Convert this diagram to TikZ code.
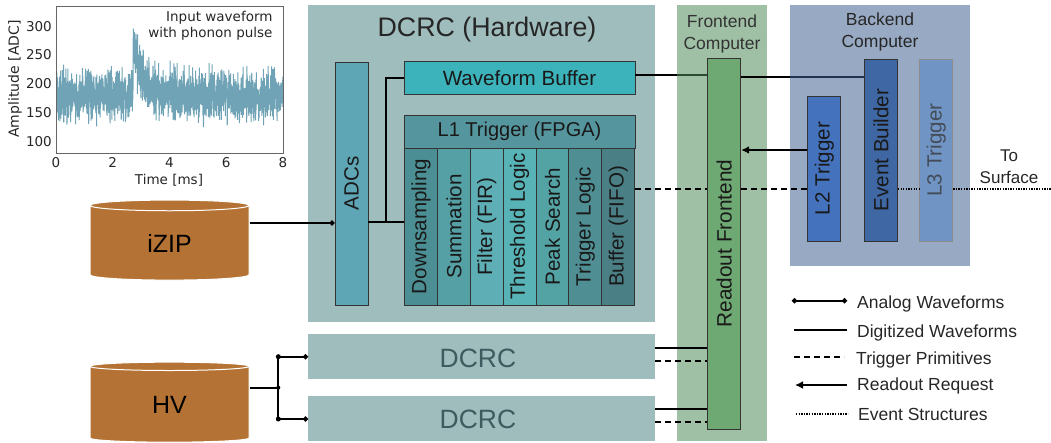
\documentclass[tikz,border=0pt]{standalone}
\usepackage{fontspec}
\setmainfont{Liberation Sans}
\newfontfamily\plotfont{DejaVu Sans}
\usetikzlibrary{shapes.geometric, arrows.meta, positioning}
\definecolor{dcrcpanel}{RGB}{160,189,189}
\definecolor{frontpanel}{RGB}{160,192,165}
\definecolor{backpanel}{RGB}{151,169,195}
\definecolor{detbrown}{RGB}{180,115,52}
\definecolor{wavecol}{RGB}{111,163,181}
\definecolor{dcrctext}{RGB}{60,92,95}
\definecolor{adccol}{RGB}{94,165,181}
\definecolor{buffercol}{RGB}{60,179,186}
\definecolor{lonecol}{RGB}{85,150,158}
\definecolor{readcol}{RGB}{110,168,114}
\definecolor{ltwocol}{RGB}{68,114,189}
\definecolor{buildcol}{RGB}{62,103,163}
\definecolor{lthreecol}{RGB}{112,148,196}
\definecolor{frontline}{RGB}{44,74,50}
\definecolor{backline}{RGB}{31,51,80}
\definecolor{downscol}{RGB}{75,142,147}
\definecolor{summcol}{RGB}{84,160,165}
\definecolor{filtcol}{RGB}{94,174,181}
\definecolor{threshcol}{RGB}{87,179,181}
\definecolor{peakcol}{RGB}{83,163,165}
\definecolor{tlogiccol}{RGB}{79,143,148}
\definecolor{fifocol}{RGB}{74,127,133}
\tikzset{
  panel/.style={rectangle, inner sep=0pt, anchor=north west},
  unit/.style={rectangle, draw=black!80, line width=0.8pt, inner sep=0pt, text=black!90},
  upunit/.style={unit, rotate=90, minimum height=33pt, font=\fontsize{20.6}{22}\selectfont},
  detector/.style={cylinder, shape border rotate=90, aspect=0.24, draw=white, line width=1pt,
    cylinder uses custom fill, cylinder body fill=detbrown, cylinder end fill=detbrown,
    minimum width=159pt, minimum height=80pt, inner sep=0pt, font=\fontsize{25}{27}\selectfont},
  analog/.style={line width=1.8pt, -{Circle[length=5pt]}},
  digital/.style={line width=1.8pt},
  trigprim/.style={line width=1.8pt, dash pattern=on 6pt off 4pt},
  request/.style={line width=1.8pt, -{Latex[length=8pt,width=8pt]}},
  evstruct/.style={line width=1.8pt, dash pattern=on 1.3pt off 1.3pt},
  legendtext/.style={anchor=west, inner sep=0pt, font=\fontsize{17.5}{19}\selectfont, text=black!85},
  ticktext/.style={inner sep=0pt, font=\plotfont\fontsize{13.5}{15}\selectfont, text=black!85}
}
\begin{document}
\begin{tikzpicture}[x=1pt, y=-1pt,
  declare function={wave(\t)=180+25*(rand+rand)+12*rand+55*rand*rand*rand*rand*rand
    +(\t>2.72)*95*exp(-max(\t-2.72,0)/0.28);}]
\useasboundingbox (0,0) rectangle (1051,442);

% Panels
\node[panel, fill=dcrcpanel, minimum width=347pt, minimum height=317pt] (dcrcmain) at (308,5) {};
\node[panel, fill=dcrcpanel, minimum width=347pt, minimum height=45pt] (dcrcone) at (308,334) {};
\node[panel, fill=dcrcpanel, minimum width=347pt, minimum height=45pt] (dcrctwo) at (308,396) {};
\node[panel, fill=frontpanel, minimum width=90pt, minimum height=436pt] (frontend) at (677,5) {};
\node[panel, fill=backpanel, minimum width=180pt, minimum height=261pt] (backend) at (790,5) {};

% Panel titles
\node[inner sep=0pt, font=\fontsize{26.8}{30}\selectfont, text=black!85] (dcrctitle) at (487,30) {DCRC (Hardware)};
\node[inner sep=0pt, font=\fontsize{26.5}{28}\selectfont, text=dcrctext] (dcrconetitle) at (478,358) {DCRC};
\node[inner sep=0pt, font=\fontsize{26.5}{28}\selectfont, text=dcrctext] (dcrctwotitle) at (478,419) {DCRC};
\node[inner sep=0pt, align=center, font=\fontsize{17.5}{22}\selectfont, text=black!80] (fronttitle) at (722,33.5) {Frontend\\Computer};
\node[inner sep=0pt, align=center, font=\fontsize{17.5}{22}\selectfont, text=black!85] (backtitle) at (880,32) {Backend\\Computer};

% Detectors
\node[detector] (izip) at (169.5,243) {\raisebox{-4pt}{iZIP}};
\node[detector] (hv) at (169.5,404.5) {\raisebox{-4pt}{HV}};

% DCRC contents
\node[upunit, fill=adccol, minimum width=243pt] (adcs) at (351.5,183.5) {ADCs};
\node[unit, fill=buffercol, minimum width=231pt, minimum height=32.5pt, font=\fontsize{20.6}{22}\selectfont] (wavebuf) at (519.5,78) {Waveform Buffer};
\node[unit, fill=lonecol, minimum width=231pt, minimum height=33pt, font=\fontsize{20}{21}\selectfont] (lonehead) at (519.5,131.5) {L1 Trigger (FPGA)};
\foreach \nm/\xc/\lab in {
  downs/421/Downsampling,
  summ/454/Summation,
  filt/486.8/Filter (FIR),
  thresh/519.6/Threshold Logic,
  peak/552.5/Peak Search,
  tlogic/585.3/Trigger Logic,
  fifo/618.3/Buffer (FIFO)}
  \node[upunit, fill=\nm col, minimum width=157pt] (\nm) at (\xc,226.5) {\lab};

% Computers
\node[upunit, fill=readcol, minimum width=371pt, font=\fontsize{20.8}{22}\selectfont] (readout) at (724.3,243.5) {Readout Frontend};
\node[upunit, fill=ltwocol, minimum width=145pt] (ltwo) at (824.2,168.5) {L2 Trigger};
\node[upunit, fill=buildcol, minimum width=182pt] (evbuild) at (881,150) {Event Builder};
\node[upunit, fill=lthreecol, draw=black!45, text=black!55!backpanel, minimum width=182pt] (lthree) at (936.3,150) {L3 Trigger};

% Connector levels
\coordinate (adclvl) at (0,222);
\coordinate (izlvl) at (0,223);
\coordinate (buflvl) at (0,75);
\coordinate (buildlvl) at (0,77);
\coordinate (reqlvl) at (0,150);
\coordinate (primlvl) at (0,189);
\coordinate (branchadc) at (386,222);
\coordinate (branchhv) at (278.3,387.7);
\coordinate (hvup) at (278.3,356.7);
\coordinate (hvdown) at (278.3,419);
\coordinate (tosurface) at (1051,189);

% Analog waveforms
\draw[analog] (izip.east |- izlvl) -- (adcs.north |- izlvl);
\draw[digital] (hv.east |- branchhv) -- (branchhv);
\draw[digital] (hvup) -- (hvdown);
\fill (hvup) circle (2.5pt) (hvdown) circle (2.5pt) (branchhv) circle (2pt);
\draw[analog] (hvup) -- (dcrcone.west |- hvup);
\draw[analog] (hvdown) -- (dcrctwo.west |- hvdown);

% Digitized waveforms
\draw[digital] (adcs.south |- adclvl) -- (downs.north |- adclvl);
\draw[digital] (branchadc) |- (wavebuf.west);
\draw[digital, line width=1.3pt, frontline] (wavebuf.east |- buflvl) -- (readout.north |- buflvl);
\draw[digital, line width=1.3pt] (wavebuf.east |- buflvl) -- (frontend.west |- buflvl);
\draw[digital, backline] (readout.south |- buildlvl) -- (evbuild.north |- buildlvl);
\draw[digital] (readout.south |- buildlvl) -- (backend.west |- buildlvl);
\draw[digital] (dcrcone.east |- 0,347.7) -- (readout.north |- 0,347.7);
\draw[digital] (dcrctwo.east |- 0,408.7) -- (readout.north |- 0,408.7);

% Trigger primitives
\draw[trigprim] (fifo.south |- primlvl) -- (readout.north |- primlvl);
\draw[trigprim] (readout.south |- primlvl) -- (ltwo.north |- primlvl);
\draw[trigprim] (dcrcone.east |- 0,361) -- (readout.north |- 0,361);
\draw[trigprim] (dcrctwo.east |- 0,422.3) -- (readout.north |- 0,422.3);

% Readout request
\draw[request] (ltwo.north |- reqlvl) -- (readout.south |- reqlvl);

% Event structures
\draw[evstruct] (evbuild.south |- primlvl) -- (lthree.north |- primlvl);
\draw[evstruct] (lthree.south |- primlvl) -- (tosurface);
\node[inner sep=0pt, align=center, font=\fontsize{17}{22}\selectfont, text=black!85] (surface) at (1009,167) {To\\Surface};

% Legend
\node[legendtext] (leganalog) at (857,303.5) {Analog Waveforms};
\node[legendtext] (legdigital) at (857,332.5) {Digitized Waveforms};
\node[legendtext] (legprim) at (856,359.5) {Trigger Primitives};
\node[legendtext] (legrequest) at (857,385.5) {Readout Request};
\node[legendtext] (legevent) at (858,414) {Event Structures};
\coordinate (analogl) at (792,300.7);
\coordinate (analogr) at (847,300.7);
\coordinate (digitall) at (794,330);
\coordinate (digitalr) at (847,330);
\coordinate (priml) at (794,356.7);
\coordinate (primr) at (844,356.7);
\coordinate (requestl) at (795,385);
\coordinate (requestr) at (847,385);
\coordinate (eventl) at (796,414);
\coordinate (eventr) at (848,414);
\draw[analog, {Circle[length=5pt]}-{Circle[length=5pt]}] (analogl) -- (analogr);
\draw[digital] (digitall) -- (digitalr);
\draw[trigprim] (priml) -- (primr);
\draw[request] (requestr) -- (requestl);
\draw[evstruct] (eventl) -- (eventr);

% Waveform plot
\begin{scope}
\clip (56,6) rectangle (283,153);
\pgfmathsetseed{4217}
\draw[wavecol, line width=1pt, line join=bevel] plot[samples=1900, domain=0:8]
  ({56+\x*28.375}, {141.3-(wave(\x)-100)*0.576});
\end{scope}
\draw[black!60, line width=0.8pt] (56,6) rectangle (283,153);
\foreach \v in {0,2,4,6,8}
  \node[ticktext, anchor=north] (xtick\v) at ({56+\v*28.375},157) {\v};
\foreach \v in {100,150,200,250,300}
  \node[ticktext, anchor=east] (ytick\v) at (52,{141.3-(\v-100)*0.576}) {\v};
\node[ticktext] (xlabel) at (169,180) {Time [ms]};
\node[ticktext, rotate=90, font=\plotfont\fontsize{14}{15}\selectfont] (ylabel) at (15,79) {Amplitude [ADC]};
\node[ticktext, align=right, anchor=north east, font=\plotfont\fontsize{13.5}{16.2}\selectfont] (waveinfo) at (272.7,11) {Input waveform\\with phonon pulse};
\end{tikzpicture}
\end{document}
